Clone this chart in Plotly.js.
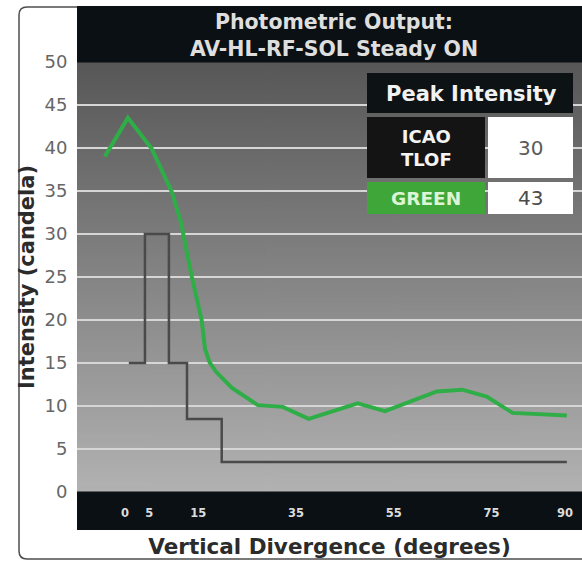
<!DOCTYPE html>
<html>
<head>
<meta charset="utf-8">
<script src="https://cdn.plot.ly/plotly-3.0.1.min.js"></script>
<style>
  html, body { margin: 0; padding: 0; background: #ffffff; }
  #chart { width: 582px; height: 563px; }
</style>
</head>
<body>
<div id="chart"></div>
<script>
// ---- data ----
const titleLines = ['Photometric Output:', 'AV-HL-RF-SOL Steady ON'];
const xAxisTitle = 'Vertical Divergence (degrees)';
const yAxisTitle = 'Intensity (candela)';

const xTickVals = [0, 5, 15, 35, 55, 75, 90];
const yTickVals = [0, 5, 10, 15, 20, 25, 30, 35, 40, 45, 50];

// GREEN measured output
const greenX = [-4.1, 0.6, 5.5, 7.6, 9.6, 11.4, 13.7, 15.7, 16.4, 17.3, 18.6, 21.9, 27.2, 32.3, 37.6, 47.6, 53.2, 63.8, 69.0, 74.0, 79.3, 90.4];
const greenY = [39.0, 43.5, 39.9, 37.4, 34.9, 31.5, 25.0, 20.0, 16.6, 15.1, 14.0, 12.1, 10.1, 9.9, 8.5, 10.3, 9.4, 11.7, 11.9, 11.1, 9.2, 8.9];

// ICAO TLOF requirement (step profile)
const tlofX = [0.8, 4.1, 9.0, 12.7, 19.8, 90.4];
const tlofY = [15, 30, 15, 8.5, 3.5, 3.5];

// Peak intensity table
const tableHeader = 'Peak Intensity';
const tableLabels = ['ICAO<br>TLOF', 'GREEN'];
const tableValues = [30, 43];

// ---- geometry helpers (pixel -> paper) ----
const W = 582, H = 563;
const L = 77, R = 582, T = 62, B = 492;
const px = x => (x - L) / (R - L);
const py = y => (B - y) / (B - T);

// gradient background as an image
function gradientURL() {
  const c = document.createElement('canvas');
  c.width = 4; c.height = 256;
  const g = c.getContext('2d');
  const grd = g.createLinearGradient(0, 0, 0, 256);
  grd.addColorStop(0, '#575757');
  grd.addColorStop(1, '#b2b2b2');
  g.fillStyle = grd;
  g.fillRect(0, 0, 4, 256);
  return c.toDataURL('image/png');
}

const FONT = 'DejaVu Sans';
const dark = '#0a1013';

const traces = [
  {
    x: tlofX, y: tlofY, type: 'scatter', mode: 'lines', name: 'ICAO TLOF',
    line: { shape: 'hv', color: '#4a4a4a', width: 2.5 }, hoverinfo: 'x+y'
  },
  {
    x: greenX, y: greenY, type: 'scatter', mode: 'lines', name: 'GREEN',
    line: { color: '#2fae48', width: 4 }, hoverinfo: 'x+y'
  }
];

function rect(x0, y0, x1, y1, fill, layer) {
  return { type: 'rect', xref: 'paper', yref: 'paper',
    x0: px(x0), x1: px(x1), y0: py(y1), y1: py(y0),
    fillcolor: fill, line: { width: 0 }, layer: layer || 'above' };
}

const frameR = 8;
function pathStr() {
  return 'M' + px(600) + ',' + py(7) +
    ' L' + px(19 + frameR) + ',' + py(7) +
    ' Q' + px(19) + ',' + py(7) + ' ' + px(19) + ',' + py(7 + frameR) +
    ' L' + px(19) + ',' + py(559 - frameR) +
    ' Q' + px(19) + ',' + py(559) + ' ' + px(19 + frameR) + ',' + py(559) +
    ' L' + px(600) + ',' + py(559);
}

const shapes = [
  { type: 'path', xref: 'paper', yref: 'paper', path: pathStr(),
    line: { color: '#4d4d4d', width: 1.5 }, layer: 'above' },
  rect(77, 6, 582, 62.5, dark),                // title banner
  rect(77, 491.5, 582, 530, dark, 'below'),    // x tick band
  // table
  rect(367, 73, 573, 113, '#0d1214'),
  rect(367, 117, 485, 178, '#141414'),
  rect(488, 117, 573, 178, '#ffffff'),
  rect(367, 182, 485, 214, '#3fa63a'),
  rect(488, 182, 573, 214, '#ffffff')
];

function ann(text, x, y, size, color, bold) {
  return { xref: 'paper', yref: 'paper', x: px(x), y: py(y),
    xanchor: 'center', yanchor: 'middle', showarrow: false, text: text,
    font: { family: FONT, size: size, color: color, weight: bold ? 'bold' : 'normal' } };
}

const annotations = [
  ann(tableHeader, 471, 94, 21, '#f2f2f2', true),
  ann(tableLabels[0], 426, 148, 18, '#f4f4f4', true),
  ann(String(tableValues[0]), 530, 148, 20, '#5a5a5a', false),
  ann(tableLabels[1], 426, 198, 18.5, '#dcf5d4', true),
  ann(String(tableValues[1]), 530, 198, 20, '#4a4a4a', false)
];

const layout = {
  width: W, height: H,
  margin: { l: L, r: W - R, t: T, b: H - B, pad: 0 },
  paper_bgcolor: '#ffffff',
  plot_bgcolor: '#8a8a8a',
  showlegend: false,
  title: {
    text: titleLines.join('<br>'),
    x: 334 / W, xanchor: 'center', xref: 'container',
    y: 1 - 29 / H, yanchor: 'middle', yref: 'container',
    font: { family: FONT, size: 20.5, color: '#dedede', weight: 'bold' }
  },
  xaxis: {
    range: [-9.8, 93.5],
    tickvals: xTickVals,
    ticks: 'outside', ticklen: 10, tickcolor: 'rgba(0,0,0,0)',
    showgrid: false, zeroline: false, showline: false,
    tickfont: { family: FONT, size: 11.5, color: '#dcdcdc', weight: 'bold' },
    title: { text: xAxisTitle, standoff: 20,
      font: { family: FONT, size: 21.5, color: '#2b2b2b', weight: 'bold' } },
    fixedrange: true
  },
  yaxis: {
    range: [0, 50],
    tickvals: yTickVals,
    ticks: 'outside', ticklen: 5, tickcolor: 'rgba(0,0,0,0)',
    showgrid: true, gridcolor: '#d6d6d6', gridwidth: 2.5,
    zeroline: false, showline: false,
    tickfont: { family: FONT, size: 18, color: '#666666' },
    title: { text: yAxisTitle, standoff: 4,
      font: { family: FONT, size: 21, color: '#2b2b2b', weight: 'bold' } },
    fixedrange: true
  },
  images: [{
    source: gradientURL(), xref: 'paper', yref: 'paper',
    x: 0, y: 1, sizex: 1, sizey: 1, xanchor: 'left', yanchor: 'top',
    sizing: 'stretch', layer: 'below'
  }],
  shapes: shapes,
  annotations: annotations
};

Plotly.newPlot('chart', traces, layout, { displayModeBar: false, staticPlot: true });
</script>
</body>
</html>
